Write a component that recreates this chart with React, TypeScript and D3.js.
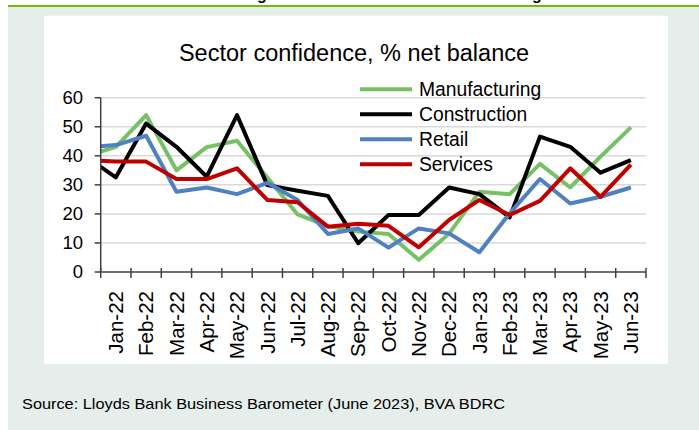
import React from "react";
import * as d3 from "d3";

// Categories (labelled months) – a leading Dec-21 point exists in the source but is clipped at the axis
const months = ["Jan-22","Feb-22","Mar-22","Apr-22","May-22","Jun-22","Jul-22","Aug-22","Sep-22","Oct-22","Nov-22","Dec-22","Jan-23","Feb-23","Mar-23","Apr-23","May-23","Jun-23"];
const leadMonth = "Dec-21";

// Series values: first entry is Dec-21 (clipped), then Jan-22 .. Jun-23
const manufacturing = [39.7, 43.1, 54, 35, 43, 45.2, 32.5, 19.8, 15.8, 13.9, 13.1, 4.2, 13.2, 27.6, 26.8, 37.2, 29.1, 39.7, 49.8];
const construction = [39.8, 32.6, 51.1, 43.1, 32.8, 54, 29.9, 28, 26.2, 9.9, 19.6, 19.6, 29.1, 26.8, 18.8, 46.6, 43.1, 34.2, 38.5];
const retail = [42.9, 43.7, 46.9, 27.6, 29.1, 26.8, 30.7, 24.8, 13.1, 15, 8.4, 15, 13.3, 6.8, 20.2, 32, 23.6, 25.9, 29.1];
const services = [38.6, 38, 38, 32, 32, 35.7, 24.8, 24, 15.6, 16.6, 15.9, 8.5, 17.9, 24.8, 19.6, 24.5, 35.7, 25.9, 37];

const yTicks = [0, 10, 20, 30, 40, 50, 60];

const seriesNames = ["Manufacturing", "Construction", "Retail", "Services"];
const seriesColors = ["#77c066", "#000000", "#4f81c2", "#c00000"];
const seriesData = [manufacturing, construction, retail, services];

const title = "Sector confidence, % net balance";
const source = "Source: Lloyds Bank Business Barometer (June 2023), BVA BDRC";

export default function App() {
  const W = 699, H = 430;
  const plotL = 100.7, plotR = 646, plotT = 97.7, plotB = 272;
  const font = "'Liberation Sans', Arial, sans-serif";

  const band = d3.scaleBand<string>().domain(months).range([plotL, plotR]).padding(0);
  const bw = band.bandwidth();
  const allCats = [leadMonth, ...months];
  const xPos = (i: number) => {
    const c = allCats[i];
    if (c === leadMonth) return (band(months[0]) as number) - bw / 2;
    return (band(c) as number) + bw / 2;
  };
  const y = d3.scaleLinear().domain([0, 60]).range([plotB, plotT]);

  const line = d3.line<number>().x((_, i) => xPos(i)).y((d) => y(d));

  const tickXs = [...months.map((m) => band(m) as number), plotR];

  return (
    <svg width={W} height={H} style={{ position: "absolute", left: 0, top: 0 }}>
      <defs>
        <clipPath id="plotclip">
          <rect x={plotL} y={0} width={plotR - plotL + 10} height={H} />
        </clipPath>
      </defs>
      <rect x={0} y={0} width={W} height={H} fill="#ffffff" />
      <rect x={8} y={7} width={W - 8} height={H - 7} fill="#e5eeea" />
      <rect x={8} y={5} width={W - 8} height={2} fill="#76b900" />
      <text x={262} y={-0.5} fontFamily={font} fontWeight="bold" fontSize={16} textAnchor="middle" fill="#000">g</text>
      <text x={537} y={-0.5} fontFamily={font} fontWeight="bold" fontSize={16} textAnchor="middle" fill="#000">g</text>
      <rect x={44} y={15.7} width={624} height={348.3} fill="#ffffff" />

      <text x={354} y={60.5} fontFamily={font} fontSize={23.5} textAnchor="middle" fill="#000">{title}</text>

      {yTicks.filter((t) => t > 0).map((t) => (
        <line key={"g" + t} x1={plotL} x2={plotR} y1={y(t)} y2={y(t)} stroke="#d9d9d9" strokeWidth={1.5} />
      ))}

      <g clipPath="url(#plotclip)">
        {seriesData.map((s, k) => (
          <path key={seriesNames[k]} d={line(s) || ""} fill="none" stroke={seriesColors[k]} strokeWidth={4} strokeLinejoin="round" />
        ))}
      </g>

      <line x1={plotL} x2={plotL} y1={plotT} y2={plotB} stroke="#404040" strokeWidth={1.5} />
      {yTicks.map((t) => (
        <g key={"yt" + t}>
          <line x1={plotL - 6} x2={plotL} y1={y(t)} y2={y(t)} stroke="#404040" strokeWidth={1.5} />
          <text x={83} y={y(t)} dy="0.35em" fontFamily={font} fontSize={18.5} textAnchor="end" fill="#000">{t}</text>
        </g>
      ))}
      <line x1={plotL} x2={plotR} y1={plotB} y2={plotB} stroke="#404040" strokeWidth={1.5} />
      {tickXs.map((x, i) => (
        <line key={"xt" + i} x1={x} x2={x} y1={plotB - 4} y2={plotB + 6} stroke="#404040" strokeWidth={1.5} />
      ))}
      {months.map((m) => {
        const cx = (band(m) as number) + bw / 2;
        return (
          <text key={m} transform={`translate(${cx},291) rotate(-90)`} dy="0.35em" fontFamily={font} fontSize={20.5} textAnchor="end" fill="#000">{m}</text>
        );
      })}

      {seriesNames.map((n, k) => {
        const ly = 89.3 + k * 25;
        return (
          <g key={"lg" + n}>
            <line x1={360} x2={412} y1={ly} y2={ly} stroke={seriesColors[k]} strokeWidth={4} />
            <text x={419} y={ly} dy="0.35em" fontFamily={font} fontSize={19.3} fill="#000">{n}</text>
          </g>
        );
      })}

      <text x={22} y={409} fontFamily={font} fontSize={14.5} textLength={483} lengthAdjust="spacingAndGlyphs" fill="#000">{source}</text>
    </svg>
  );
}
